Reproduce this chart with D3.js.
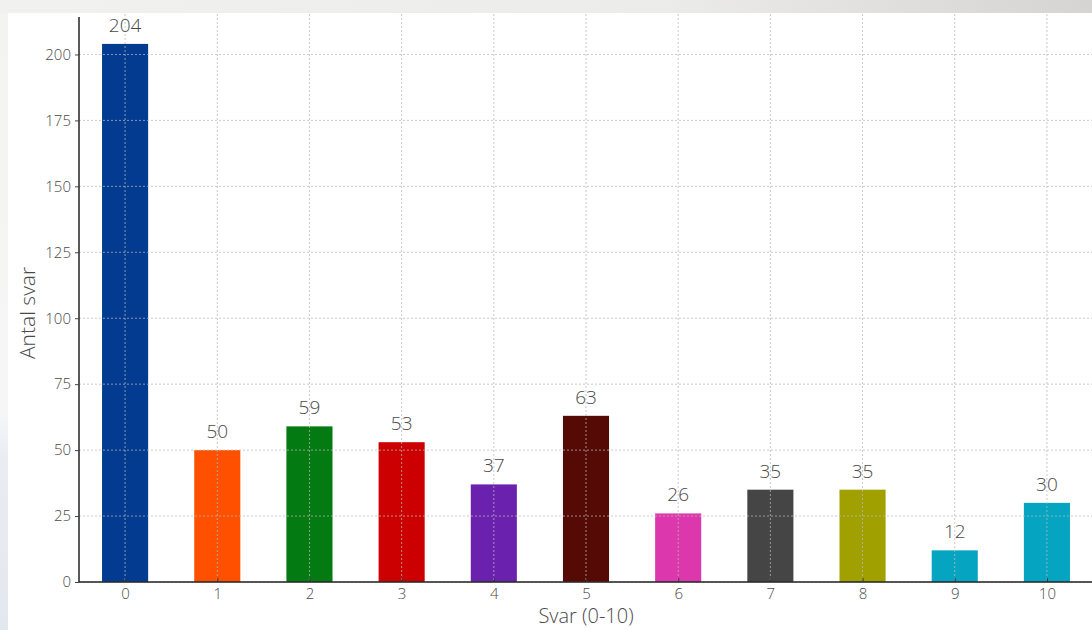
<!DOCTYPE html>
<html>
<head>
<meta charset="utf-8">
<script src="https://cdn.jsdelivr.net/npm/d3@7"></script>
<style>
  body { margin: 0; background: #fff; }
  svg { display: block; font-family: "Open Sans", Lato, sans-serif; }
</style>
</head>
<body>
<svg id="chart" width="1092" height="630"></svg>
<script>
const answers = ['0', '1', '2', '3', '4', '5', '6', '7', '8', '9', '10'];
const counts = [204, 50, 59, 53, 37, 63, 26, 35, 35, 12, 30];
const barColors = ['#023b8f', '#ff5000', '#037a12', '#cc0000', '#6a22ae', '#550a06',
  '#dd37ae', '#454545', '#a0a000', '#05a5c2', '#05a5c2'];
const yTicks = [0, 25, 50, 75, 100, 125, 150, 175, 200];

const svg = d3.select('#chart');

// backdrop: grey band on top, bluish strip on the left
const defs = svg.append('defs');
const topGrad = defs.append('linearGradient').attr('id', 'topGrad');
topGrad.append('stop').attr('offset', '0%').attr('stop-color', '#f1f1ef');
topGrad.append('stop').attr('offset', '60%').attr('stop-color', '#ececea');
topGrad.append('stop').attr('offset', '100%').attr('stop-color', '#d6d4d2');
const leftGrad = defs.append('linearGradient').attr('id', 'leftGrad')
  .attr('x1', 0).attr('y1', 0).attr('x2', 0).attr('y2', 1);
leftGrad.append('stop').attr('offset', '0%').attr('stop-color', '#f3f3f2');
leftGrad.append('stop').attr('offset', '65%').attr('stop-color', '#f6f6f6');
leftGrad.append('stop').attr('offset', '72%').attr('stop-color', '#e9ecf2');
leftGrad.append('stop').attr('offset', '100%').attr('stop-color', '#e3e7ef');

svg.append('rect').attr('width', 1092).attr('height', 13).attr('fill', 'url(#topGrad)');
svg.append('rect').attr('y', 13).attr('width', 8).attr('height', 617).attr('fill', 'url(#leftGrad)');
svg.append('rect').attr('x', 8).attr('y', 13).attr('width', 1084).attr('height', 617).attr('fill', '#fff');

const x = d3.scaleLinear().domain([-0.5, 10.5]).range([79, 1093]);
const y = d3.scaleLinear().domain([0, 214.2]).range([582, 17]);
const barW = x(0.5) - x(0);

// bars
svg.append('g')
  .selectAll('rect')
  .data(counts)
  .join('rect')
  .attr('x', (d, i) => x(i) - barW / 2)
  .attr('y', d => y(d))
  .attr('width', barW)
  .attr('height', d => y(0) - y(d))
  .attr('fill', (d, i) => barColors[i]);

// grid on top of bars
const grid = svg.append('g')
  .attr('stroke', '#b8b8b8')
  .attr('stroke-width', 1)
  .attr('stroke-dasharray', '2,2')
  .attr('opacity', 0.75);
grid.selectAll('line.h')
  .data(yTicks)
  .join('line')
  .attr('class', 'h')
  .attr('x1', 79).attr('x2', 1092)
  .attr('y1', d => y(d)).attr('y2', d => y(d));
grid.selectAll('line.v')
  .data(answers)
  .join('line')
  .attr('class', 'v')
  .attr('x1', (d, i) => x(i)).attr('x2', (d, i) => x(i))
  .attr('y1', 14).attr('y2', 582);

// value labels
svg.append('g')
  .selectAll('text')
  .data(counts)
  .join('text')
  .attr('x', (d, i) => x(i))
  .attr('y', d => y(d) - 12)
  .attr('text-anchor', 'middle')
  .attr('font-size', 19)
  .attr('font-weight', 300)
  .attr('fill', '#4a4a4a')
  .text(d => d);

// axes
const yAxis = svg.append('g')
  .attr('transform', 'translate(79,0)')
  .call(d3.axisLeft(y).tickValues(yTicks).tickSize(4).tickPadding(4));
yAxis.select('.domain').attr('stroke', '#222').attr('stroke-width', 1.5)
  .attr('d', `M0,${y(0)}V17`);
yAxis.selectAll('.tick line').attr('stroke', '#444');
yAxis.selectAll('.tick text').attr('font-size', 15).attr('fill', '#4a4a4a')
  .attr('font-weight', 300).attr('font-family', '"Open Sans", sans-serif');

const xAxis = svg.append('g')
  .attr('transform', `translate(0,${y(0)})`)
  .call(d3.axisBottom(x).tickValues(d3.range(answers.length))
    .tickFormat(i => answers[i]).tickSize(4).tickPadding(2));
xAxis.select('.domain').attr('stroke', '#222').attr('stroke-width', 1.5)
  .attr('d', 'M79,0H1092');
xAxis.selectAll('.tick line').attr('stroke', '#333').attr('y1', -4).attr('y2', 0);
xAxis.selectAll('.tick text').attr('font-size', 15).attr('fill', '#4a4a4a')
  .attr('font-weight', 300).attr('font-family', '"Open Sans", sans-serif');

// axis titles
svg.append('text')
  .attr('x', x(5)).attr('y', 623)
  .attr('text-anchor', 'middle')
  .attr('font-size', 20).attr('font-weight', 300).attr('fill', '#4a4a4a')
  .text('Svar (0-10)');
svg.append('text')
  .attr('transform', `translate(35,${y(102)}) rotate(-90)`)
  .attr('text-anchor', 'middle')
  .attr('font-size', 21).attr('font-weight', 300).attr('fill', '#4a4a4a')
  .text('Antal svar');
</script>
</body>
</html>
